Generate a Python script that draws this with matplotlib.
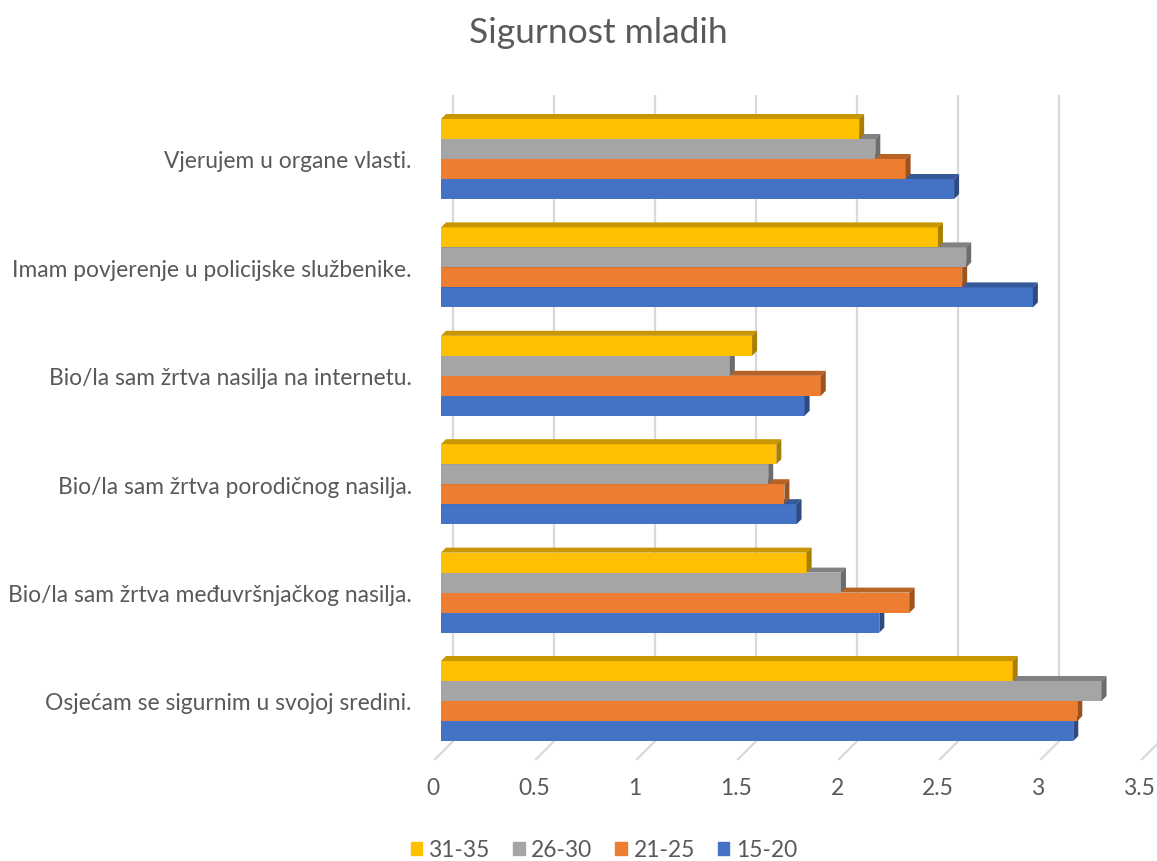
import numpy as np
import matplotlib
matplotlib.use("Agg")
from matplotlib import pyplot as plt
from matplotlib.patches import Polygon, Patch
from matplotlib.transforms import ScaledTranslation

plt.rcParams['font.family'] = ['Lato', 'DejaVu Sans']

# categories from bottom to top
categories = ["Osjećam se sigurnim u svojoj sredini.",
              "Bio/la sam žrtva međuvršnjačkog nasilja.",
              "Bio/la sam žrtva porodičnog nasilja.",
              "Bio/la sam žrtva nasilja na internetu.",
              "Imam povjerenje u policijske službenike.",
              "Vjerujem u organe vlasti."]

# series, lowest bar in each group first
series = ["15-20", "21-25", "26-30", "31-35"]
age_15_20 = [3.13, 2.17, 1.76, 1.80, 2.93, 2.54]
age_21_25 = [3.15, 2.32, 1.70, 1.88, 2.58, 2.30]
age_26_30 = [3.27, 1.98, 1.62, 1.43, 2.60, 2.15]
age_31_35 = [2.83, 1.81, 1.66, 1.54, 2.46, 2.07]
values = [age_15_20, age_21_25, age_26_30, age_31_35]

xticks = [0, 0.5, 1, 1.5, 2, 2.5, 3, 3.5]
xticklabels = ["0", "0.5", "1", "1.5", "2", "2.5", "3", "3.5"]

colors = ["#4472C4", "#ED7D31", "#A5A5A5", "#FFC000"]
txt = "#595959"
grid = "#D9D9D9"

W, H = 1157, 862
fig = plt.figure(figsize=(W / 100, H / 100), dpi=100)
ax = fig.add_axes([441 / W, 1 - 756.2 / H, 707 / W, (756.2 - 105.8) / H])
ax.set_xlim(0, 3.5)
ax.set_ylim(-0.5, 5.5)
for s in ax.spines.values():
    s.set_visible(False)

# data units per pixel
inv = ax.transData.inverted()
p0 = inv.transform((0, 0))
p1 = inv.transform((1, 1))
ux, uy = p1 - p0


def shade(c, f):
    rgb = np.array(matplotlib.colors.to_rgb(c))
    return tuple(rgb * f)


# back wall gridlines and floor ticks
y_wall_bot = -0.5 + 14 * uy
y_wall_top = 5.5 + 10 * uy
y_floor = -0.5 - 4 * uy
for v in xticks:
    xb = v + 12 * ux
    ax.plot([xb, xb], [y_wall_bot, y_wall_top], color=grid, lw=1.6, zorder=0,
            clip_on=False, solid_capstyle="butt")
    ax.plot([xb, v - 6 * ux], [y_wall_bot, y_floor], color=grid, lw=1.6,
            zorder=0, clip_on=False)

# 3d bars
h = 0.1845
dx, dy = 5 * ux, 5 * uy
ypos = np.arange(len(categories))
for k, (vals, col) in enumerate(zip(values, colors)):
    y0 = ypos + (k - 2) * h
    ax.barh(y0, vals, height=h, align="edge", color=col, linewidth=0, zorder=2)
    for yy, v in zip(y0, vals):
        top = [(0, yy + h), (v, yy + h), (v + dx, yy + h + dy), (dx, yy + h + dy)]
        side = [(v, yy), (v, yy + h), (v + dx, yy + h + dy), (v + dx, yy + dy)]
        ax.add_patch(Polygon(top, closed=True, color=shade(col, 0.78),
                             linewidth=0, zorder=2))
        ax.add_patch(Polygon(side, closed=True, color=shade(col, 0.66),
                             linewidth=0, zorder=2))

ax.set_yticks(ypos)
ax.set_yticklabels(categories, fontsize=16.4, color=txt)
ax.set_xticks(xticks)
ax.set_xticklabels(xticklabels, fontsize=16.4, color=txt)
ax.tick_params(axis="both", length=0)
ax.tick_params(axis="y", pad=21)
ax.tick_params(axis="x", pad=16)
for lbl in ax.get_xticklabels():
    lbl.set_transform(lbl.get_transform() + ScaledTranslation(-0.08, 0, fig.dpi_scale_trans))

fig.text(598 / W, 1 - 33 / H, "Sigurnost mladih", fontsize=25.5, color=txt,
         ha="center", va="center")

handles = [Patch(color=c) for c in colors[::-1]]
fig.legend(handles, series[::-1], loc="center", bbox_to_anchor=(604 / W, 1 - 851 / H),
           ncol=4, frameon=False, fontsize=16.4, labelcolor=txt,
           handlelength=0.5, handleheight=0.5, handletextpad=0.3, columnspacing=1.0)

fig.savefig("out.png", dpi=100, facecolor="white")
